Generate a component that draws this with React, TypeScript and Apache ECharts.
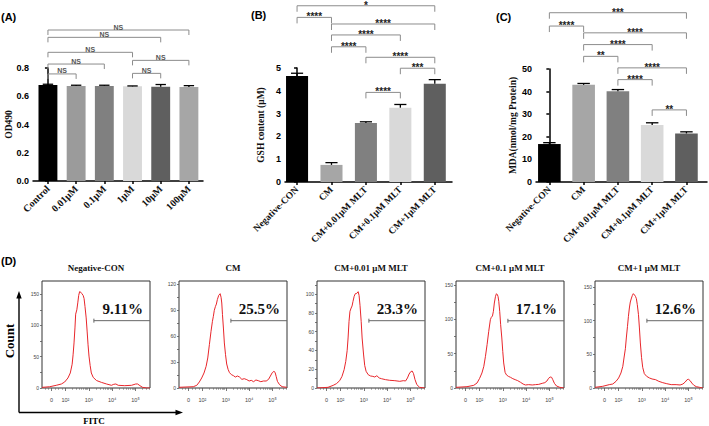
import React, { useEffect, useRef } from 'react';
import * as echarts from 'echarts';

// ---------- Panel A ----------
const aCategories = ['Control', '0.01μM', '0.1μM', '1μM', '10μM', '100μM'];
const aValues = [0.68, 0.672, 0.672, 0.67, 0.668, 0.665];
const aErrors = [0.005, 0.006, 0.006, 0.003, 0.015, 0.01];
const aBarColors = ['#000000', '#9b9b9b', '#808080', '#d9d9d9', '#5f5f5f', '#a6a6a6'];
const aBrackets = [[0, 1, 0.758], [3, 4, 0.762], [0, 2, 0.828], [3, 5, 0.854], [0, 3, 0.911], [0, 4, 1.017], [0, 5, 1.069]];
const aBracketLabels = ['NS', 'NS', 'NS', 'NS', 'NS', 'NS', 'NS'];

// ---------- Panels B & C ----------
const treatCategories = ['Negative-CON', 'CM', 'CM+0.01μM MLT', 'CM+0.1μM MLT', 'CM+1μM MLT'];
const treatColors = ['#000000', '#a6a6a6', '#808080', '#d9d9d9', '#5f5f5f'];
const bValues = [4.65, 0.75, 2.59, 3.26, 4.31];
const bErrors = [0.12, 0.1, 0.05, 0.14, 0.18];
const bBrackets = [[0, 4, 7.73], [0, 1, 7.22], [1, 4, 6.93], [1, 3, 6.45], [1, 2, 5.93], [2, 4, 5.47], [3, 4, 4.99], [2, 3, 3.93]];
const bBracketLabels = ['*', '****', '****', '****', '****', '****', '***', '****'];
const cValues = [16.8, 43.0, 40.1, 25.2, 21.5];
const cErrors = [0.6, 0.6, 0.8, 1.0, 0.7];
const cBrackets = [[0, 4, 74.9], [0, 1, 69.0], [1, 4, 66.0], [1, 3, 60.8], [1, 2, 55.6], [2, 4, 50.5], [2, 3, 45.3], [3, 4, 31.9]];
const cBracketLabels = ['***', '****', '****', '****', '**', '****', '****', '**'];

// ---------- Panel D (flow histograms, x in decades of FITC) ----------
const dTitles = ['Negative-CON', 'CM', 'CM+0.01 μM MLT', 'CM+0.1 μM MLT', 'CM+1 μM MLT'];
const dPercents = ['9.11%', '25.5%', '23.3%', '17.1%', '12.6%'];
const dYMax = [171, 124, 114, 156, 159];
const dYTicks = [[0, 50, 100, 150], [0, 30, 60, 90, 120], [0, 20, 40, 60, 80, 100], [0, 50, 100, 150], [0, 50, 100, 150]];
const dGateX = [3.22, 3.22, 3.22, 3.22, 3.22];
const dGateY = [107.6, 78, 71.7, 98, 100];
const dXTickValues = [1.41, 2, 3, 4, 5];
const dXTickLabels = ['0', '10²', '10³', '10⁴', '10⁵'];

const negConCurve = [[1.0, 1], [1.33, 2], [1.61, 4.3], [1.83, 6.4], [1.97, 9.6], [2.11, 16], [2.21, 24], [2.29, 38], [2.33, 53], [2.37, 72], [2.41, 96], [2.44, 118], [2.49, 125], [2.53, 136], [2.57, 148], [2.61, 154], [2.66, 153], [2.7, 151], [2.76, 148], [2.8, 143], [2.84, 130], [2.89, 112], [2.93, 91], [2.97, 69], [3.01, 51], [3.06, 36], [3.11, 24], [3.19, 17], [3.33, 12], [3.54, 9], [3.76, 6.4], [3.97, 4.3], [4.07, 5.9], [4.16, 6.4], [4.26, 4.3], [4.54, 3.7], [4.83, 4.3], [5.01, 6.4], [5.09, 6.4], [5.19, 3.7], [5.3, 1.1], [5.47, 0], [5.61, 0]];
const cmCurve = [[1.0, 0.8], [1.61, 1.5], [1.76, 3.1], [1.87, 7.0], [1.97, 11.6], [2.07, 17.4], [2.16, 25.1], [2.23, 34.8], [2.3, 50.2], [2.37, 65.7], [2.43, 77.3], [2.47, 83.1], [2.51, 90.0], [2.56, 94.6], [2.6, 97.3], [2.64, 102.4], [2.7, 107.4], [2.76, 109.3], [2.8, 105.1], [2.83, 98.5], [2.86, 85.0], [2.9, 69.5], [2.94, 52.2], [2.99, 38.6], [3.04, 27.8], [3.1, 21.6], [3.16, 17.8], [3.24, 15.5], [3.33, 14.3], [3.41, 12.7], [3.5, 13.9], [3.59, 12.7], [3.69, 10.0], [3.79, 10.8], [3.9, 9.7], [4.0, 8.1], [4.09, 8.9], [4.19, 7.3], [4.29, 9.3], [4.39, 8.5], [4.5, 7.3], [4.61, 8.1], [4.73, 8.1], [4.83, 10.0], [4.91, 13.9], [4.99, 17.8], [5.06, 19.3], [5.11, 18.2], [5.16, 13.1], [5.21, 7.7], [5.3, 3.9], [5.41, 1.5], [5.61, 0.8]];
const cm001Curve = [[1.0, 0], [1.47, 0.7], [1.69, 2.8], [1.83, 4.6], [1.97, 7.8], [2.07, 12.4], [2.16, 19.5], [2.23, 28.4], [2.29, 39.8], [2.33, 53.3], [2.37, 71.0], [2.41, 81.7], [2.46, 85.2], [2.5, 87.4], [2.54, 92.3], [2.59, 97.7], [2.64, 100.5], [2.7, 100.8], [2.76, 102.6], [2.8, 98.7], [2.84, 88.1], [2.89, 71.0], [2.93, 53.3], [2.99, 36.2], [3.04, 24.1], [3.1, 17.8], [3.19, 14.2], [3.29, 12.8], [3.39, 12.4], [3.47, 11.7], [3.56, 13.1], [3.66, 10.7], [3.76, 9.9], [3.93, 8.9], [4.11, 8.2], [4.33, 7.8], [4.54, 7.1], [4.69, 7.8], [4.79, 7.5], [4.87, 10.7], [4.94, 14.9], [5.01, 17.4], [5.07, 18.1], [5.13, 15.3], [5.19, 9.2], [5.27, 3.6], [5.39, 0.7], [5.61, 0]];
const cm01Curve = [[1.0, 1.0], [1.47, 1.9], [1.76, 3.9], [1.9, 7.3], [2.01, 14.1], [2.11, 21.9], [2.19, 31.6], [2.26, 46.2], [2.33, 63.2], [2.4, 82.6], [2.47, 99.6], [2.51, 103.0], [2.56, 105.0], [2.6, 111.8], [2.64, 123.9], [2.69, 133.7], [2.73, 137.5], [2.77, 136.1], [2.8, 133.2], [2.83, 126.4], [2.87, 111.8], [2.91, 92.3], [2.96, 72.9], [3.0, 53.5], [3.04, 36.5], [3.1, 22.8], [3.16, 19.0], [3.24, 17.0], [3.33, 15.6], [3.43, 13.6], [3.53, 12.2], [3.64, 10.7], [3.76, 8.3], [3.87, 5.8], [3.97, 4.4], [4.11, 4.9], [4.26, 4.4], [4.4, 4.9], [4.54, 5.3], [4.69, 6.8], [4.8, 7.8], [4.89, 10.2], [4.96, 14.1], [5.03, 16.0], [5.09, 15.6], [5.14, 12.2], [5.21, 6.8], [5.3, 2.9], [5.44, 1.0], [5.61, 0]];
const cm1Curve = [[1.0, 1.0], [1.33, 2.5], [1.61, 5.0], [1.76, 5.9], [1.9, 9.9], [2.01, 14.9], [2.11, 22.3], [2.19, 32.2], [2.24, 44.6], [2.3, 58.4], [2.34, 74.3], [2.39, 91.6], [2.43, 106.5], [2.47, 118.9], [2.51, 127.8], [2.56, 133.7], [2.6, 137.7], [2.64, 140.2], [2.69, 138.2], [2.73, 136.2], [2.77, 132.7], [2.81, 123.8], [2.86, 109.0], [2.9, 89.2], [2.94, 66.9], [2.99, 45.6], [3.04, 30.7], [3.11, 21.3], [3.21, 17.3], [3.33, 14.9], [3.44, 13.4], [3.59, 12.4], [3.73, 9.9], [3.9, 7.9], [4.07, 6.4], [4.26, 5.0], [4.47, 5.0], [4.64, 4.5], [4.76, 5.9], [4.86, 8.9], [4.94, 12.4], [5.0, 12.9], [5.07, 10.9], [5.14, 7.4], [5.23, 4.0], [5.33, 2.0], [5.47, 1.0], [5.61, 0]];
const dCurves = [negConCurve, cmCurve, cm001Curve, cm01Curve, cm1Curve];

// ---------- layout / style ----------
const SERIF = '"Liberation Serif", "Times New Roman", serif';
const SANS = '"Liberation Sans", Arial, sans-serif';
const D_X_MIN = 1;
const D_X_MAX = 5.62;
const D_LEFTS = [42, 179, 317, 456, 595];
const D_TOP = 281;
const D_W = 108;
const D_H = 107;

const barPanels = [
  { cats: aCategories, values: aValues, errors: aErrors, colors: aBarColors, brackets: aBrackets, labels: aBracketLabels,
    yName: 'OD490', yMax: 0.8, yInterval: 0.2, digits: 1, grid: { left: 33, top: 68, width: 170, height: 113 },
    xMin: -0.53, xMax: 5.5, barW: 0.67, drop: 5, nameGap: 19, catFont: 10, sigSize: 7, sigColor: '#555', bracketColor: '#8c8c8c' },
  { cats: treatCategories, values: bValues, errors: bErrors, colors: treatColors, brackets: bBrackets, labels: bBracketLabels,
    yName: 'GSH content (μM)', yMax: 5, yInterval: 1, digits: 0, grid: { left: 285, top: 68, width: 167, height: 114 },
    xMin: -0.35, xMax: 4.5, barW: 0.64, drop: 6, nameGap: 19, catFont: 9.5, sigSize: 10, sigColor: '#222', bracketColor: '#8c8c8c' },
  { cats: treatCategories, values: cValues, errors: cErrors, colors: treatColors, brackets: cBrackets, labels: cBracketLabels,
    yName: 'MDA(nmol/mg Protein)', yMax: 50, yInterval: 10, digits: 0, grid: { left: 536, top: 69, width: 171, height: 113 },
    xMin: -0.39, xMax: 4.6, barW: 0.66, drop: 6, nameGap: 18, catFont: 9.5, sigSize: 10, sigColor: '#222', bracketColor: '#8c8c8c' },
];

function minorLogTicks(): number[] {
  const out: number[] = [1.15, 1.28, 1.55, 1.7, 1.85];
  for (let d = 2; d <= 5; d++) {
    for (let k = 2; k <= 9; k++) {
      const v = d + Math.log10(k);
      if (v < D_X_MAX) out.push(v);
    }
  }
  return out;
}

function buildOption() {
  const grid: any[] = [];
  const xAxis: any[] = [];
  const yAxis: any[] = [];
  const series: any[] = [];

  barPanels.forEach((p, i) => {
    grid.push({ ...p.grid, outerBoundsMode: 'none', containLabel: false });
    const tickVals = p.cats.map((_, k) => k);
    xAxis.push({
      type: 'value', gridIndex: i, min: p.xMin, max: p.xMax,
      axisLine: { show: true, lineStyle: { color: '#000', width: 1.5 } },
      axisTick: { show: true, customValues: tickVals, length: 3, lineStyle: { color: '#000', width: 1.5 } },
      axisLabel: {
        show: true, customValues: tickVals, rotate: 45, margin: 6,
        formatter: (v: number) => p.cats[Math.round(v)] ?? '',
        fontFamily: SERIF, fontWeight: 'bold', fontSize: p.catFont, color: '#111',
      },
      splitLine: { show: false },
    });
    yAxis.push({
      type: 'value', gridIndex: i, min: 0, max: p.yMax, interval: p.yInterval,
      name: p.yName, nameLocation: 'middle', nameGap: p.nameGap, nameRotate: 90, nameMoveOverlap: false,
      nameTextStyle: { fontFamily: SERIF, fontWeight: 'bold', fontSize: 9.5, color: '#111' },
      axisLine: { show: true, lineStyle: { color: '#000', width: 1.5 } },
      axisTick: { show: true, length: 3, lineStyle: { color: '#000', width: 1.5 } },
      axisLabel: { fontFamily: SANS, fontWeight: 'bold', fontSize: 9, color: '#000', margin: 4,
        formatter: (v: number) => v.toFixed(p.digits) },
      splitLine: { show: false },
    });
    // bars + error bars
    series.push({
      type: 'custom', xAxisIndex: i, yAxisIndex: i, clip: false, silent: true,
      data: p.values.map((v, k) => [k, v]),
      encode: { x: 0, y: 1 },
      renderItem: (params: any, api: any) => {
        const idx = params.dataIndex;
        const x = api.value(0), v = api.value(1), e = p.errors[idx];
        const w = api.size([p.barW, 0])[0];
        const top = api.coord([x, v]);
        const base = api.coord([x, 0]);
        const errTop = api.coord([x, v + e]);
        const cap = w * 0.55;
        return {
          type: 'group',
          children: [
            { type: 'rect', shape: { x: top[0] - w / 2, y: top[1], width: w, height: base[1] - top[1] }, style: { fill: p.colors[idx] } },
            { type: 'line', shape: { x1: top[0], y1: top[1], x2: top[0], y2: errTop[1] }, style: { stroke: '#000', lineWidth: 1.3 } },
            { type: 'line', shape: { x1: top[0] - cap / 2, y1: errTop[1], x2: top[0] + cap / 2, y2: errTop[1] }, style: { stroke: '#000', lineWidth: 1.3 } },
          ],
        };
      },
    });
    // significance brackets
    series.push({
      type: 'custom', xAxisIndex: i, yAxisIndex: i, clip: false, silent: true,
      data: p.brackets.map((b) => [b[0], b[2], b[1]]),
      encode: { x: 0, y: 1 },
      renderItem: (params: any, api: any) => {
        const x1 = api.value(0), y = api.value(1), x2 = api.value(2);
        const p1 = api.coord([x1, y]);
        const p2 = api.coord([x2, y]);
        const label = p.labels[params.dataIndex];
        const isStar = label.indexOf('*') >= 0;
        const ty = isStar ? p1[1] + p.sigSize * 0.45 : p1[1] + 0.5;
        return {
          type: 'group',
          children: [
            { type: 'polyline', shape: { points: [[p1[0], p1[1] + p.drop], [p1[0], p1[1]], [p2[0], p2[1]], [p2[0], p2[1] + p.drop]] },
              style: { stroke: p.bracketColor, lineWidth: 1, fill: null } },
            { type: 'text', x: (p1[0] + p2[0]) / 2, y: ty,
              style: { text: label, align: 'center', verticalAlign: 'bottom', font: 'bold ' + p.sigSize + 'px ' + SANS, fill: p.sigColor } },
          ],
        };
      },
    });
  });

  const minorTicks = minorLogTicks();
  dCurves.forEach((curve, j) => {
    const gi = 3 + j;
    grid.push({ left: D_LEFTS[j], top: D_TOP, width: D_W, height: D_H, show: true, borderColor: '#333', borderWidth: 1,
      backgroundColor: 'transparent', outerBoundsMode: 'none', containLabel: false });
    const step = dYTicks[j][1];
    const yMinor = dYTicks[j].map((t) => t + step / 2).filter((t) => t < dYMax[j]);
    yAxis.push({
      type: 'value', gridIndex: gi, min: 0, max: dYMax[j],
      axisLine: { show: false },
      axisTick: { show: true, customValues: [...dYTicks[j], ...yMinor], length: 2, lineStyle: { color: '#555', width: 0.8 } },
      axisLabel: { show: true, customValues: dYTicks[j], fontFamily: SANS, fontSize: 5, color: '#444', margin: 3 },
      splitLine: { show: false },
    });
  });
  // major x axes for D (indices 3..7)
  dCurves.forEach((_, j) => {
    xAxis.push({
      type: 'value', gridIndex: 3 + j, min: D_X_MIN, max: D_X_MAX, position: 'bottom',
      axisLine: { show: false },
      axisTick: { show: true, customValues: dXTickValues, length: 3, lineStyle: { color: '#555', width: 0.8 } },
      axisLabel: { show: true, customValues: dXTickValues, margin: 9,
        formatter: (v: number) => dXTickLabels[dXTickValues.indexOf(v)] ?? '',
        fontFamily: SANS, fontSize: 5.5, color: '#444' },
      splitLine: { show: false },
    });
  });
  // minor x axes for D (indices 8..12)
  dCurves.forEach((_, j) => {
    xAxis.push({
      type: 'value', gridIndex: 3 + j, min: D_X_MIN, max: D_X_MAX, position: 'bottom', offset: 0,
      axisLine: { show: false },
      axisTick: { show: true, customValues: minorTicks, length: 1.8, lineStyle: { color: '#666', width: 0.6 } },
      axisLabel: { show: false },
      splitLine: { show: false },
    });
  });
  dCurves.forEach((curve, j) => {
    series.push({
      type: 'line', xAxisIndex: 3 + j, yAxisIndex: 3 + j, data: curve, showSymbol: false, symbol: 'none',
      smooth: false, lineStyle: { color: '#e8262b', width: 1 }, silent: true,
    });
    series.push({
      type: 'custom', xAxisIndex: 3 + j, yAxisIndex: 3 + j, clip: false, silent: true,
      data: [[dGateX[j], dGateY[j]]],
      encode: { x: 0, y: 1 },
      renderItem: (params: any, api: any) => {
        const pl = api.coord([api.value(0), api.value(1)]);
        const pr = api.coord([D_X_MAX, api.value(1)]);
        return {
          type: 'group',
          children: [
            { type: 'line', shape: { x1: pl[0], y1: pl[1], x2: pr[0], y2: pr[1] }, style: { stroke: '#666', lineWidth: 1 } },
            { type: 'line', shape: { x1: pl[0], y1: pl[1] - 2, x2: pl[0], y2: pl[1] + 2 }, style: { stroke: '#666', lineWidth: 1 } },
            { type: 'text', x: pr[0] - 7, y: pl[1] - 12,
              style: { text: dPercents[j], align: 'right', verticalAlign: 'middle', font: 'bold 15px ' + SERIF, fill: '#111' } },
          ],
        };
      },
    });
  });

  const graphic: any[] = [
    { type: 'text', x: 1, y: 17, style: { text: '(A)', font: 'bold 11px ' + SANS, fill: '#000', verticalAlign: 'middle' } },
    { type: 'text', x: 251, y: 15, style: { text: '(B)', font: 'bold 11px ' + SANS, fill: '#000', verticalAlign: 'middle' } },
    { type: 'text', x: 496, y: 17, style: { text: '(C)', font: 'bold 11px ' + SANS, fill: '#000', verticalAlign: 'middle' } },
    { type: 'text', x: 1, y: 261, style: { text: '(D)', font: 'bold 11px ' + SANS, fill: '#000', verticalAlign: 'middle' } },
    { type: 'text', x: 9, y: 341, rotation: Math.PI / 2,
      style: { text: 'Count', font: 'bold 13px ' + SERIF, fill: '#000', align: 'center', verticalAlign: 'middle' } },
    { type: 'text', x: 94, y: 421, style: { text: 'FITC', font: 'bold 9px ' + SERIF, fill: '#000', align: 'center', verticalAlign: 'middle' } },
    { type: 'line', shape: { x1: 19, y1: 412.5, x2: 19, y2: 297 }, style: { stroke: '#000', lineWidth: 1.4 } },
    { type: 'polygon', shape: { points: [[19, 291], [16.3, 298.5], [21.7, 298.5]] }, style: { fill: '#000' } },
    { type: 'line', shape: { x1: 19, y1: 412.5, x2: 177, y2: 412.5 }, style: { stroke: '#000', lineWidth: 1.4 } },
    { type: 'polygon', shape: { points: [[183, 412.5], [175.5, 409.8], [175.5, 415.2]] }, style: { fill: '#000' } },
  ];
  dTitles.forEach((t, j) => {
    graphic.push({ type: 'text', x: D_LEFTS[j] + D_W / 2, y: 268,
      style: { text: t, font: 'bold 9px ' + SERIF, fill: '#111', align: 'center', verticalAlign: 'middle' } });
  });

  return {
    animation: false,
    backgroundColor: '#ffffff',
    grid, xAxis, yAxis, series, graphic,
  };
}

export default function App() {
  const ref = useRef<HTMLDivElement>(null);
  useEffect(() => {
    document.body.style.margin = '0';
    if (!ref.current) return;
    const chart = echarts.init(ref.current, null, { renderer: 'svg' });
    chart.setOption(buildOption() as any);
    return () => chart.dispose();
  }, []);
  return <div ref={ref} style={{ position: 'fixed', left: 0, top: 0, width: 709, height: 426 }} />;
}
